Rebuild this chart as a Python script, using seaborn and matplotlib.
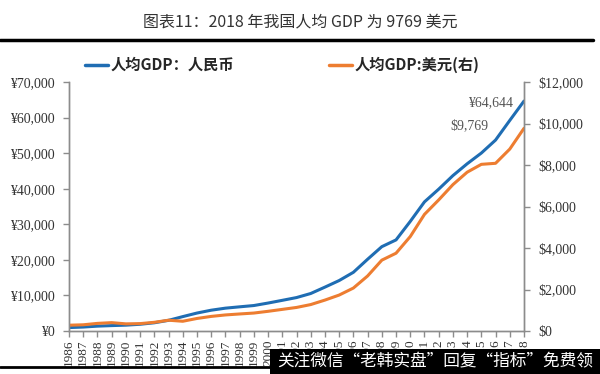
import matplotlib.pyplot as plt
import seaborn as sns
import pandas as pd
from matplotlib.lines import Line2D
from matplotlib.patches import Rectangle
from matplotlib.ticker import FuncFormatter

# 数据
years = list(range(1986, 2019))
gdp_rmb = [963, 1112, 1366, 1519, 1644, 1893, 2311, 2998, 4044, 5046,
           5846, 6420, 6796, 7159, 7858, 8622, 9398, 10542, 12336, 14185,
           16500, 20169, 23708, 25608, 30808, 36302, 39874, 43684, 47005, 50028,
           53680, 59201, 64644]
gdp_usd = [279, 299, 367, 403, 344, 356, 419, 520, 469, 604,
           703, 774, 821, 865, 949, 1042, 1135, 1274, 1490, 1732,
           2070, 2652, 3414, 3749, 4551, 5620, 6317, 7054, 7652, 8032,
           8082, 8768, 9769]

df = pd.DataFrame({'year': years, 'rmb': gdp_rmb, 'usd': gdp_usd})

sns.set_style('white')
plt.rcParams['font.family'] = ['Noto Sans CJK SC', 'DejaVu Sans']

blue = '#1F6DB3'
orange = '#ED7D31'
grey = '#8c8c8c'
serif = ['Liberation Serif', 'DejaVu Serif']

fig = plt.figure(figsize=(6, 3.74), dpi=100)
ax = fig.add_axes([69/600, 1-331/374, (524-69)/600, (331-82)/374])
ax2 = ax.twinx()

sns.lineplot(data=df, x='year', y='rmb', ax=ax, color=blue, linewidth=2.2)
sns.lineplot(data=df, x='year', y='usd', ax=ax2, color=orange, linewidth=2.2)

ax.set_xlim(1986, 2018)
ax.set_ylim(0, 70000)
ax2.set_ylim(0, 12000)
ax.set_yticks(range(0, 70001, 10000))
ax2.set_yticks(range(0, 12001, 2000))
ax.set_xticks(years)
ax.set_xticklabels([str(y) for y in years], rotation=90, fontsize=9.5,
                   family=serif, color='#333333')
ax.yaxis.set_major_formatter(FuncFormatter(lambda v, p: '¥{:,.0f}'.format(v)))
ax2.yaxis.set_major_formatter(FuncFormatter(lambda v, p: '${:,.0f}'.format(v)))
for lbl in ax.get_yticklabels() + ax2.get_yticklabels():
    lbl.set_family(serif)
    lbl.set_fontsize(10)
    lbl.set_color('#333333')

ax.set_xlabel('')
ax.set_ylabel('')
ax2.set_ylabel('')

for a in (ax, ax2):
    a.spines['top'].set_visible(False)
    for s in ('left', 'right', 'bottom'):
        a.spines[s].set_color(grey)
        a.spines[s].set_linewidth(1)
    a.tick_params(length=4, color=grey, width=1, direction='out')
ax.tick_params(axis='y', left=True, pad=6)
ax.tick_params(axis='x', bottom=True, pad=2)
ax2.tick_params(axis='y', right=True, pad=6)

# 标注
ax.text(2017.2, 64100, '¥64,644', ha='right', va='center',
        fontsize=10, family=serif, color='#555555')
ax2.text(2015.5, 9880, '$9,769', ha='right', va='center',
         fontsize=10, family=serif, color='#555555')

# 标题
fig.text(0.5, 1-22/374, '图表11：2018 年我国人均 GDP 为 9769 美元', ha='center',
         va='center', fontsize=11.5, color='#333333')
fig.add_artist(Line2D([0, 593/600], [1-40/374, 1-40/374], color='black', lw=2.5))

# 图例
ly = 1-65/374
fig.add_artist(Line2D([85/600, 108/600], [ly, ly], color=blue, lw=2.5))
fig.text(111/600, ly, '人均GDP：人民币', va='center', fontsize=11, fontweight='bold')
fig.add_artist(Line2D([329/600, 352/600], [ly, ly], color=orange, lw=2.5))
fig.text(355/600, ly, '人均GDP:美元(右)', va='center', fontsize=11, fontweight='bold')

# 底部线和水印
fig.add_artist(Line2D([0, 270/600], [1-367/374, 1-367/374], color='black', lw=2))
fig.add_artist(Rectangle((270/600, 0), 330/600, 25/374, transform=fig.transFigure,
                         facecolor='black', edgecolor='none', zorder=10))
fig.text(435/600, 12/374, '关注微信“老韩实盘”回复“指标”免费领', ha='center', va='center',
         fontsize=12, color='white', zorder=11)

fig.savefig('out.png', dpi=100)
